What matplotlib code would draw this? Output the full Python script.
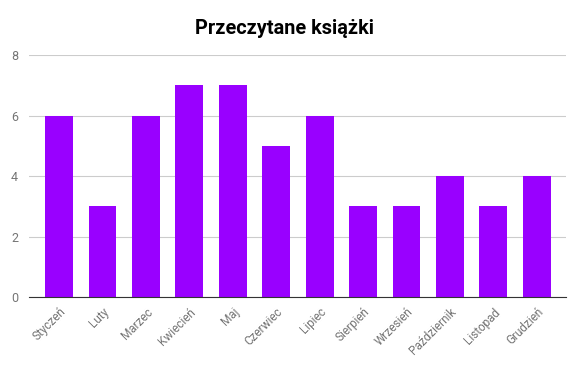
import matplotlib
matplotlib.use('Agg')
import matplotlib.pyplot as plt

# Dane
months = ['Styczeń', 'Luty', 'Marzec', 'Kwiecień', 'Maj', 'Czerwiec',
          'Lipiec', 'Sierpień', 'Wrzesień', 'Październik', 'Listopad', 'Grudzień']
books = [6, 3, 6, 7, 7, 5, 6, 3, 3, 4, 3, 4]
y_ticks = [0, 2, 4, 6, 8]

plt.rcParams['font.family'] = ['Roboto', 'DejaVu Sans']

fig = plt.figure(figsize=(5.81, 3.65), dpi=100)
ax = fig.add_axes([0.050, 0.186, 0.924, 0.663])

x = range(len(months))
ax.bar(x, books, width=0.64, color='#9900ff', zorder=3)

ax.set_xlim(-0.69, 11.67)
ax.set_ylim(0, 8)
ax.set_yticks(y_ticks)
ax.set_xticks(list(x))
ax.set_xticklabels(months, rotation=45, ha='right', rotation_mode='anchor')
ax.tick_params(axis='both', length=0, colors='#757575', labelsize=8.5)
ax.tick_params(axis='x', pad=6)
ax.tick_params(axis='y', labelsize=9, pad=8)

ax.grid(axis='y', color='#cccccc', linewidth=0.8, zorder=0)
for s in ['top', 'right', 'left']:
    ax.spines[s].set_visible(False)
ax.spines['bottom'].set_color('#333333')
ax.spines['bottom'].set_zorder(4)

fig.text(0.49, 0.922, 'Przeczytane książki', ha='center', va='center',
         fontsize=14.3, fontweight='bold', color='#000000')

fig.savefig('out.png', dpi=100)
